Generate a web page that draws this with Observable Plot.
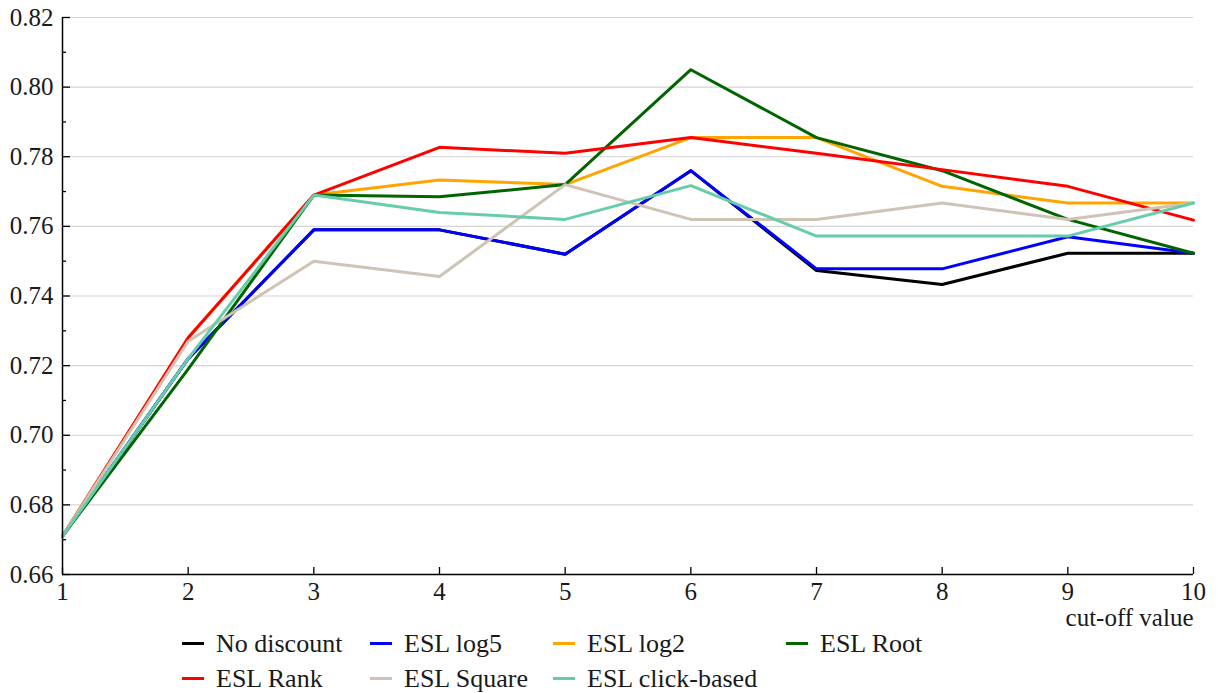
<!DOCTYPE html>
<html><head><meta charset="utf-8">
<script src="https://cdn.jsdelivr.net/npm/d3@7"></script>
<script src="https://cdn.jsdelivr.net/npm/@observablehq/plot@0.6"></script>
<style>
body{margin:0;background:#fff;font-family:"Liberation Serif","Times New Roman",Times,"DejaVu Serif",serif;}
#chart{position:relative;width:1218px;height:693px;overflow:hidden;}
#legend{position:absolute;left:0;top:626px;width:1218px;height:70px;font-size:26px;color:#1a1a1a;}
.item{position:absolute;display:flex;align-items:center;height:35px;white-space:nowrap;}
.sw{width:22px;height:3px;margin-right:12px;}
</style></head><body><div id="chart"></div>
<script>
const cutoff = [1, 2, 3, 4, 5, 6, 7, 8, 9, 10];
const noDiscount = [0.671, 0.722, 0.759, 0.759, 0.752, 0.776, 0.7473, 0.7433, 0.7523, 0.7523];
const eslLog5    = [0.671, 0.722, 0.759, 0.759, 0.752, 0.776, 0.7478, 0.7478, 0.757, 0.7523];
const eslLog2    = [0.671, 0.728, 0.769, 0.7733, 0.772, 0.7855, 0.7855, 0.7715, 0.7667, 0.7667];
const eslRoot    = [0.671, 0.719, 0.769, 0.7685, 0.772, 0.805, 0.7855, 0.776, 0.762, 0.7523];
const eslRank    = [0.671, 0.728, 0.769, 0.7827, 0.781, 0.7855, 0.781, 0.7763, 0.7715, 0.7618];
const eslSquare  = [0.671, 0.727, 0.750, 0.7456, 0.772, 0.762, 0.762, 0.7667, 0.762, 0.7667];
const eslClick   = [0.671, 0.722, 0.769, 0.764, 0.762, 0.7717, 0.7572, 0.7572, 0.7572, 0.7667];

const seriesNames  = ["No discount", "ESL log5", "ESL log2", "ESL Root", "ESL Rank", "ESL Square", "ESL click-based"];
const seriesValues = [noDiscount, eslLog5, eslLog2, eslRoot, eslRank, eslSquare, eslClick];
const seriesColors = ["#000000", "#0000ff", "#ffa500", "#006400", "#ff0000", "#cfc3b5", "#66cdaa"];

const yTicks = [0.66, 0.68, 0.70, 0.72, 0.74, 0.76, 0.78, 0.80, 0.82];
const yMinorTicks = [0.67, 0.69, 0.71, 0.73, 0.75, 0.77, 0.79, 0.81];
const xTicks = [1, 2, 3, 4, 5, 6, 7, 8, 9, 10];
const xLabel = "cut-off value";

const rows = [];
seriesValues.forEach((vals, i) => vals.forEach((v, j) => rows.push({series: seriesNames[i], x: cutoff[j], y: v})));

const W = 1218, H = 626, mL = 62, mR = 25, mT = 17, mB = 52;
const plotW = W - mL - mR, plotH = H - mT - mB;
const serif = '"Liberation Serif", "Times New Roman", Times, "DejaVu Serif", serif';

const plot = Plot.plot({
  width: W, height: H,
  marginLeft: mL, marginRight: mR, marginTop: mT, marginBottom: mB,
  style: {fontFamily: serif, fontSize: "25px", color: "#1a1a1a", background: "#fff", overflow: "visible"},
  x: {domain: [1, 10]},
  y: {domain: [0.66, 0.82]},
  color: {domain: seriesNames, range: seriesColors},
  marks: [
    Plot.ruleY(yTicks, {y: d => d, stroke: "#d4d4d4", strokeWidth: 1.2}),
    Plot.axisY(yTicks, {tickSize: 0, tickPadding: 9, tickFormat: d3.format(".2f"), label: null, fontFamily: serif, fontSize: 25}),
    Plot.axisX(xTicks, {tickSize: 0, tickPadding: 8, tickFormat: d => String(d), label: null, fontFamily: serif, fontSize: 25}),
    Plot.line(rows, {x: "x", y: "y", z: "series", stroke: "series", strokeWidth: 3, strokeLinejoin: "round"}),
    Plot.tickY(yTicks, {y: d => d, insetRight: plotW - 8, stroke: "#000", strokeWidth: 1.3}),
    Plot.tickY(yMinorTicks, {y: d => d, insetRight: plotW - 4, stroke: "#000", strokeWidth: 1.3}),
    Plot.tickX(xTicks, {x: d => d, insetTop: plotH - 7, stroke: "#000", strokeWidth: 1.3}),
    Plot.ruleX([1], {x: d => d, stroke: "#000", strokeWidth: 1.5}),
    Plot.ruleY([0.66], {y: d => d, stroke: "#000", strokeWidth: 1.5}),
    Plot.text([xLabel], {text: d => d, frameAnchor: "bottom-right", textAnchor: "end", lineAnchor: "middle", dy: 43, fill: "#1a1a1a", fontFamily: serif, fontSize: 25})
  ]
});

const chart = document.getElementById("chart");
chart.appendChild(plot);

const legend = document.createElement("div");
legend.id = "legend";
const colLeft = [182, 370, 553, 786];
seriesNames.forEach((name, i) => {
  const item = document.createElement("div");
  item.className = "item";
  item.style.left = colLeft[i % 4] + "px";
  item.style.top = (Math.floor(i / 4) * 35) + "px";
  const sw = document.createElement("span");
  sw.className = "sw";
  sw.style.background = seriesColors[i];
  const t = document.createElement("span");
  t.textContent = name;
  item.appendChild(sw);
  item.appendChild(t);
  legend.appendChild(item);
});
chart.appendChild(legend);
</script>
</body></html>
